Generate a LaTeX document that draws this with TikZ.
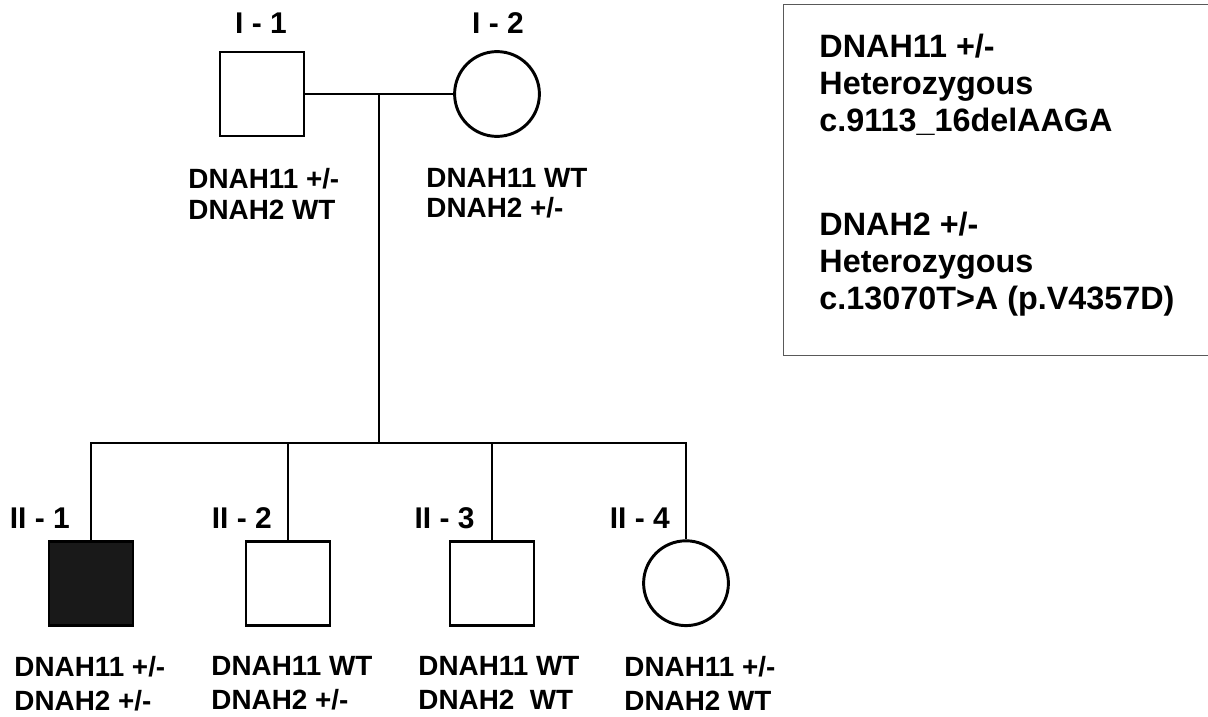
\documentclass[tikz,border=0pt]{standalone}
\usepackage{fontspec}
\setmainfont{Liberation Sans}
\usepackage{tikz}
\usepackage{xcolor}

\begin{document}
\begin{tikzpicture}[
  line width=2.1pt,
  male/.style={rectangle, draw, fill=white, minimum size=2.1cm, inner sep=0pt},
  female/.style={circle, draw, fill=white, minimum size=2.12cm, inner sep=0pt},
  affected/.style={fill=black!90},
  gen/.style={inner sep=0pt, font=\bfseries\fontsize{21.3}{24}\selectfont},
  geno/.style={anchor=north west, inner sep=0pt, align=left,
               font=\bfseries\fontsize{19.8}{#1}\selectfont},
  geno/.default=21.6,
  keybox/.style={rectangle, draw=black!65, line width=1pt, inner sep=0pt,
                 minimum width=10.65cm, minimum height=8.775cm},
  keytext/.style={anchor=north west, inner sep=0pt, align=left,
                  font=\bfseries\fontsize{23}{26.2}\selectfont}
]
  \useasboundingbox (0,0) rectangle (30.2,-17.9);

  % generation I
  \node[male]   (f1) at (6.55, -2.35) {};
  \node[female] (m1) at (12.425, -2.35) {};
  \node[gen, anchor=base] (lf1) at (6.525, -0.85) {I - 1};
  \node[gen, anchor=base] (lm1) at (12.45, -0.85) {I - 2};
  \node[geno] (gf1) at (4.675, -4.175) {DNAH11 +/-\\DNAH2 WT};
  \node[geno] (gm1) at (10.625, -4.175) {DNAH11 WT\\DNAH2 +/-};

  \coordinate (mar) at (9.475, -2.35);
  \coordinate (sib) at (9.475, -11.075);

  % generation II
  \node[male, affected] (c1) at (2.275, -14.58) {};
  \node[male]   (c2) at (7.2, -14.58) {};
  \node[male]   (c3) at (12.3, -14.58) {};
  \node[female] (c4) at (17.15, -14.58) {};
  \node[gen, anchor=base east] (lc1) at (1.78, -13.2) {II - 1};
  \node[gen, anchor=base east] (lc2) at (6.83, -13.2) {II - 2};
  \node[gen, anchor=base east] (lc3) at (11.9, -13.2) {II - 3};
  \node[gen, anchor=base east] (lc4) at (16.78, -13.2) {II - 4};
  \node[geno=24] (gc1) at (0.325, -16.375) {DNAH11 +/-\\DNAH2 +/-};
  \node[geno=24] (gc2) at (5.25, -16.375) {DNAH11 WT\\DNAH2 +/-};
  \node[geno=24] (gc3) at (10.425, -16.375) {DNAH11 WT\\DNAH2\ \ WT};
  \node[geno=24] (gc4) at (15.575, -16.375) {DNAH11 +/-\\DNAH2 WT};

  \draw (f1.east) -- (m1.west);
  \draw (mar) -- (sib);
  \draw (c1.north) -- (c1.north |- sib) -- (c4.north |- sib) -- (c4.north);
  \draw (c2.north) -- (c2.north |- sib);
  \draw (c3.north) -- (c3.north |- sib);

  % key
  \node[keybox, anchor=north west] (key) at (19.575, -0.1) {};
  \node[keytext] (keyt) at (20.45, -0.82)
    {DNAH11 +/-\\Heterozygous\\c.9113\_16delAAGA\\[48pt]DNAH2 +/-\\Heterozygous\\c.13070T>A (p.V4357D)};
\end{tikzpicture}
\end{document}
